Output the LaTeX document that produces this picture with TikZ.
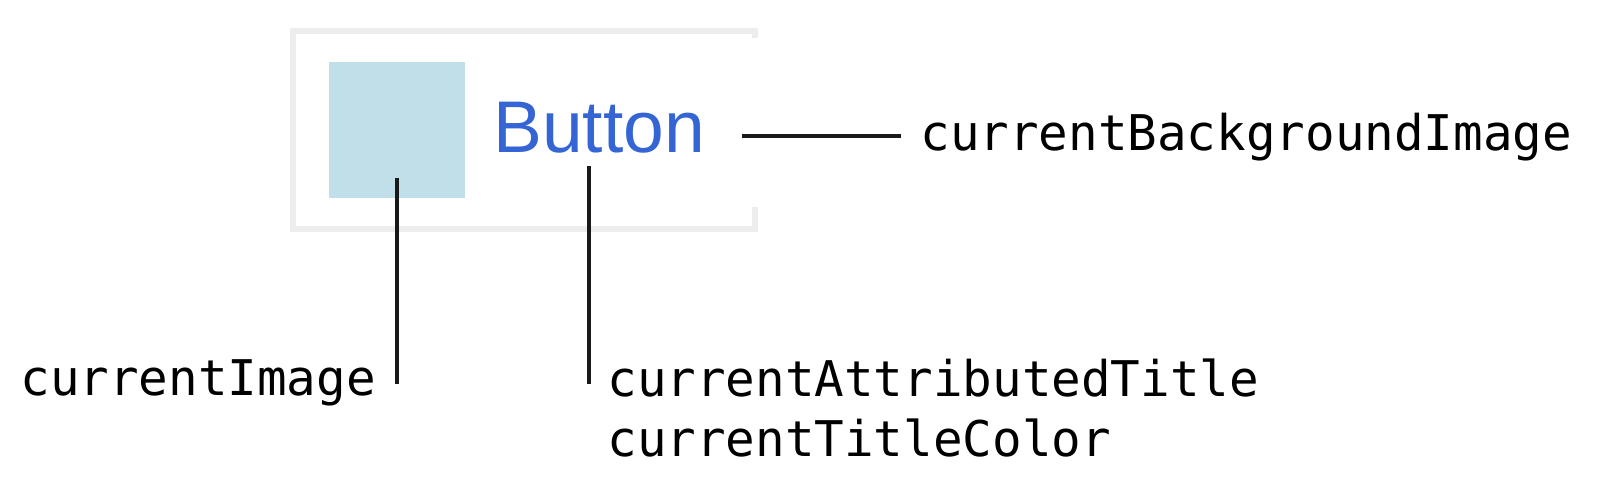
\documentclass[tikz,border=0pt]{standalone}
\usepackage{fontspec}
\setmonofont{DejaVu Sans Mono}
\newfontfamily\btnfont{Liberation Sans}
\definecolor{framegray}{HTML}{EDEDED}
\definecolor{imgblue}{HTML}{C1DFE9}
\definecolor{btnblue}{HTML}{3565D4}
\begin{document}
\begin{tikzpicture}[
    x=0.5pt, y=-0.5pt,
    lbl/.style={inner sep=0, font=\ttfamily\fontsize{24.6}{30}\selectfont, align=left},
    pin/.style={line width=2.2pt, black!90},
  ]
    \useasboundingbox (0,0) rectangle (1598,502);

    % Button frame (right edge left open) -------------------------------------
    \draw[framegray, line width=3pt] (754.5,38) -- (754.5,31.5) -- (292.5,31.5)
        -- (292.5,228.5) -- (754.5,228.5) -- (754.5,207);

    % Button contents ---------------------------------------------------------
    \node[fill=imgblue, inner sep=0, minimum size=68pt] (imgsq) at (397,130) {};
    \node[inner sep=0, anchor=base west, text=btnblue,
          font=\btnfont\fontsize{36.6}{44}\selectfont] (btn) at (493,153) {Button};

    % Labels ------------------------------------------------------------------
    \node[lbl, anchor=base west] (bgimg)  at (920,151) {currentBackgroundImage};
    \node[lbl, anchor=base west] (curimg) at (20,395)  {currentImage};
    \node[lbl, anchor=north west] (title) at (607,358)
        {currentAttributedTitle\\currentTitleColor};

    % Pins --------------------------------------------------------------------
    \coordinate (imgtop)   at (397,178);
    \coordinate (imgend)   at (397,384);
    \coordinate (titletop) at (589,166);
    \coordinate (titleend) at (589,384);
    \coordinate (bgstart)  at (742,136);
    \coordinate (bgend)    at (901,136);

    \draw[pin] (imgtop)   -- (imgend);
    \draw[pin] (titletop) -- (titleend);
    \draw[pin] (bgstart)  -- (bgend);
  \end{tikzpicture}
\end{document}
